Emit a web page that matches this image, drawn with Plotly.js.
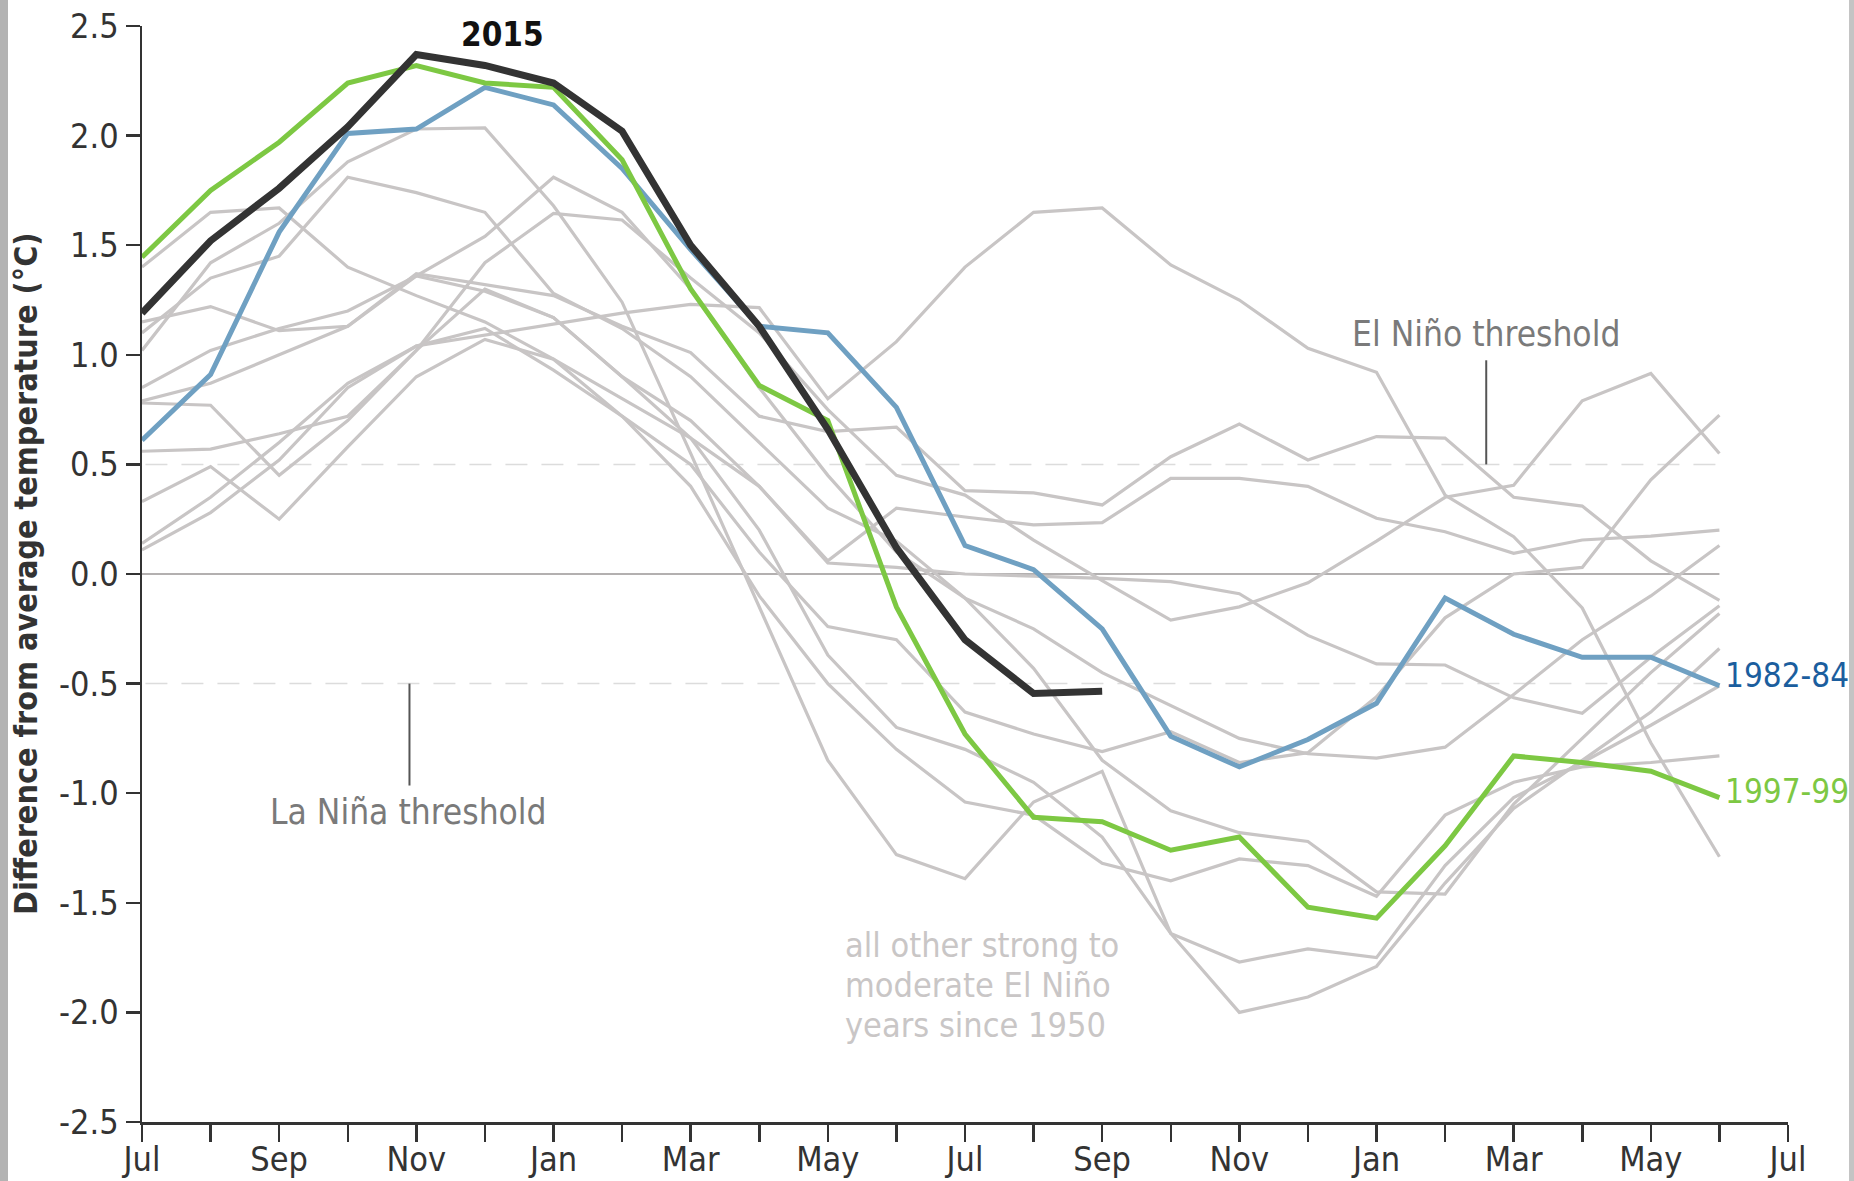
<!DOCTYPE html>
<html>
<head>
<meta charset="utf-8">
<script src="https://cdn.plot.ly/plotly-3.0.1.min.js"></script>
<style>
  html, body { margin: 0; padding: 0; background: #ffffff; }
  #chart { position: absolute; left: 0; top: 0; width: 1854px; height: 1181px; }
  .stripeL { position: absolute; left: 0; top: 0; width: 8px; height: 1181px; background: #b3b3b3; }
  .stripeR { position: absolute; right: 0; top: 0; width: 5px; height: 1181px; background: #c4c4c4; }
</style>
</head>
<body>
<div id="chart"></div>
<div class="stripeL"></div>
<div class="stripeR"></div>
<script>
// Month labels (Jul of year 0 through Jul of year 2)
const monthLabels = ['Jul','Aug','Sep','Oct','Nov','Dec','Jan','Feb','Mar','Apr','May','Jun',
                     'Jul','Aug','Sep','Oct','Nov','Dec','Jan','Feb','Mar','Apr','May','Jun','Jul'];
const yTickValues = [-2.5, -2.0, -1.5, -1.0, -0.5, 0.0, 0.5, 1.0, 1.5, 2.0, 2.5];

// Highlighted events (°C difference from average)
const el2015  = [1.19, 1.52, 1.76, 2.04, 2.37, 2.32, 2.24, 2.02, 1.50, 1.13, 0.66, 0.12, -0.30, -0.545, -0.535];
const el1982  = [0.61, 0.91, 1.56, 2.01, 2.03, 2.22, 2.14, 1.85, 1.48, 1.13, 1.10, 0.76, 0.13, 0.02, -0.25,
                 -0.74, -0.88, -0.755, -0.59, -0.11, -0.275, -0.38, -0.38, -0.51];
const el1997  = [1.445, 1.75, 1.97, 2.24, 2.32, 2.24, 2.22, 1.89, 1.30, 0.86, 0.70, -0.15, -0.73, -1.11, -1.13,
                 -1.26, -1.20, -1.52, -1.57, -1.24, -0.83, -0.86, -0.90, -1.02];

// All other strong to moderate El Niño years since 1950
const other01 = [0.14, 0.35, 0.60, 0.87, 1.04, 1.09, 1.14, 1.19, 1.23, 1.215, 0.80, 1.06, 1.40, 1.65, 1.67, 1.41, 1.25, 1.03, 0.92, 0.36, 0.17, -0.155, -0.77, -1.29];
const other02 = [1.15, 1.22, 1.11, 1.13, 1.37, 1.32, 1.27, 1.13, 1.01, 0.72, 0.65, 0.67, 0.38, 0.37, 0.315, 0.535, 0.684, 0.52, 0.627, 0.62, 0.35, 0.31, 0.06, -0.12];
const other03 = [0.56, 0.57, 0.64, 0.72, 1.02, 1.42, 1.645, 1.615, 1.35, 1.10, 0.75, 0.45, 0.36, 0.155, -0.03, -0.21, -0.15, -0.04, 0.15, 0.35, 0.405, 0.79, 0.915, 0.55];
const other04 = [0.85, 1.02, 1.12, 1.20, 1.36, 1.29, 1.17, 0.90, 0.70, 0.40, 0.06, 0.30, 0.26, 0.224, 0.234, 0.436, 0.436, 0.40, 0.254, 0.193, 0.094, 0.155, 0.173, 0.20];
const other05 = [0.33, 0.49, 0.25, 0.58, 0.90, 1.07, 0.98, 0.72, 0.50, 0.10, -0.24, -0.30, -0.63, -0.73, -0.81, -0.72, -0.86, -0.815, -0.56, -0.20, 0.00, 0.03, 0.43, 0.725];
const other06 = [1.02, 1.42, 1.60, 1.88, 2.03, 2.035, 1.68, 1.24, 0.55, -0.15, -0.85, -1.28, -1.39, -1.04, -0.90, -1.64, -2.00, -1.93, -1.79, -1.41, -1.07, -0.85, -0.63, -0.34];
const other07 = [1.10, 1.35, 1.45, 1.81, 1.74, 1.65, 1.28, 1.12, 0.90, 0.60, 0.30, 0.15, -0.11, -0.43, -0.85, -1.08, -1.18, -1.22, -1.45, -1.46, -1.05, -0.75, -0.45, -0.18];
const other08 = [1.40, 1.65, 1.67, 1.40, 1.27, 1.15, 0.98, 0.80, 0.62, 0.40, 0.05, 0.03, 0.00, -0.01, -0.02, -0.035, -0.09, -0.28, -0.41, -0.415, -0.565, -0.635, -0.38, -0.145];
const other09 = [0.79, 0.87, 1.00, 1.13, 1.36, 1.54, 1.81, 1.65, 1.30, 0.85, 0.45, 0.10, -0.11, -0.25, -0.45, -0.60, -0.75, -0.82, -0.84, -0.79, -0.55, -0.30, -0.10, 0.13];
const other10 = [0.78, 0.77, 0.45, 0.70, 1.02, 1.30, 1.17, 0.90, 0.62, 0.20, -0.37, -0.70, -0.80, -0.95, -1.20, -1.64, -1.77, -1.71, -1.75, -1.33, -1.02, -0.86, -0.69, -0.51];
const other11 = [0.11, 0.28, 0.52, 0.85, 1.04, 1.12, 0.93, 0.72, 0.40, -0.10, -0.50, -0.80, -1.04, -1.10, -1.32, -1.40, -1.30, -1.33, -1.47, -1.10, -0.95, -0.88, -0.86, -0.83];

// Note text lines
const noteLines = ['all other strong to', 'moderate El Niño', 'years since 1950'];

const thresholds = { elNino: 0.5, laNina: -0.5 };

const FONT = '"DejaVu Sans Condensed", "DejaVu Sans", sans-serif';
const GRAY = '#c8c5c5';

const idx = arr => arr.map((_, i) => i);
const others = [other01, other02, other03, other04, other05, other06, other07, other08, other09, other10, other11];

const traces = [];
others.forEach(s => traces.push({
  x: idx(s), y: s, type: 'scatter', mode: 'lines',
  line: { color: GRAY, width: 3.2 }, hoverinfo: 'skip', showlegend: false
}));
traces.push({ x: idx(el1982), y: el1982, type: 'scatter', mode: 'lines',
  line: { color: '#6fa0c2', width: 5 }, hoverinfo: 'skip', showlegend: false });
traces.push({ x: idx(el1997), y: el1997, type: 'scatter', mode: 'lines',
  line: { color: '#7dc843', width: 5 }, hoverinfo: 'skip', showlegend: false });
traces.push({ x: idx(el2015), y: el2015, type: 'scatter', mode: 'lines',
  line: { color: '#333333', width: 7 }, hoverinfo: 'skip', showlegend: false });

const lastIdx = el1982.length - 1;

const shapes = [
  { type: 'line', xref: 'x', yref: 'y', x0: 0, x1: lastIdx, y0: 0, y1: 0,
    line: { color: '#b3b0b0', width: 2 }, layer: 'below' },
  { type: 'line', xref: 'x', yref: 'y', x0: 0.05, x1: lastIdx, y0: thresholds.elNino, y1: thresholds.elNino,
    line: { color: '#dcdcdc', width: 1.5, dash: '22px,14px' }, layer: 'below' },
  { type: 'line', xref: 'x', yref: 'y', x0: 0.05, x1: lastIdx, y0: thresholds.laNina, y1: thresholds.laNina,
    line: { color: '#dcdcdc', width: 1.5, dash: '22px,14px' }, layer: 'below' },
  { type: 'line', xref: 'x', yref: 'y', x0: 19.6, x1: 19.6, y0: thresholds.elNino, y1: 0.975,
    line: { color: '#555555', width: 2 } },
  { type: 'line', xref: 'x', yref: 'y', x0: 3.9, x1: 3.9, y0: thresholds.laNina, y1: -0.965,
    line: { color: '#555555', width: 2 } }
];

const noteFont = { family: FONT, size: 34, color: '#c9c6c6' };
const noteCenter = -1.873, noteStep = 0.1825;
const annotations = [
  { x: 5.26, y: 2.46, xref: 'x', yref: 'y', text: '<b>2015</b>', showarrow: false,
    font: { family: FONT, size: 33, color: '#111111' }, xanchor: 'center', yanchor: 'middle' },
  { x: 23.05, y: -0.465, xref: 'x', yref: 'y', text: '1982-84', showarrow: false,
    font: { family: FONT, size: 33, color: '#1b5e9e' }, xanchor: 'left', yanchor: 'middle' },
  { x: 23.05, y: -0.99, xref: 'x', yref: 'y', text: '1997-99', showarrow: false,
    font: { family: FONT, size: 33, color: '#7dc843' }, xanchor: 'left', yanchor: 'middle' },
  { x: 19.6, y: 1.093, xref: 'x', yref: 'y', text: 'El Niño threshold', showarrow: false,
    font: { family: FONT, size: 35, color: '#7a7a7a' }, xanchor: 'center', yanchor: 'middle' },
  { x: 3.88, y: -1.088, xref: 'x', yref: 'y', text: 'La Niña threshold', showarrow: false,
    font: { family: FONT, size: 35, color: '#7a7a7a' }, xanchor: 'center', yanchor: 'middle' },
  { x: -0.0705, y: 0.5, xref: 'paper', yref: 'paper', text: '<b>Difference from average temperature (°C)</b>',
    showarrow: false, textangle: -90, font: { family: FONT, size: 32, color: '#333333' },
    xanchor: 'center', yanchor: 'middle' }
];
noteLines.forEach((t, k) => annotations.push({
  x: 10.24, y: noteCenter + (1 - k) * noteStep, xref: 'x', yref: 'y', text: t, showarrow: false,
  font: noteFont, xanchor: 'left', yanchor: 'middle', borderpad: 0
}));

const layout = {
  width: 1854, height: 1181,
  margin: { l: 142, r: 66, t: 26, b: 59 },
  paper_bgcolor: '#ffffff', plot_bgcolor: '#ffffff',
  showlegend: false, hovermode: false,
  xaxis: {
    range: [0, 24], tickvals: monthLabels.map((_, i) => i),
    ticktext: monthLabels.map((m, i) => (i % 2 === 0 ? m : '')),
    showgrid: false, zeroline: false, showline: true, linecolor: '#333333', linewidth: 2.5,
    ticks: 'outside', ticklen: 17, tickwidth: 2.5, tickcolor: '#333333', ticklabelstandoff: -11,
    tickfont: { family: FONT, size: 34, color: '#333333' }, fixedrange: true
  },
  yaxis: {
    range: [-2.5, 2.5], tickvals: yTickValues,
    ticktext: yTickValues.map(v => v.toFixed(1)),
    showgrid: false, zeroline: false, showline: true, linecolor: '#333333', linewidth: 2.5,
    ticks: 'outside', ticklen: 14, tickwidth: 2.5, tickcolor: '#333333',
    tickfont: { family: FONT, size: 34, color: '#333333' }, fixedrange: true
  },
  shapes: shapes,
  annotations: annotations
};

Plotly.newPlot('chart', traces, layout, { staticPlot: true, displayModeBar: false });
</script>
</body>
</html>
